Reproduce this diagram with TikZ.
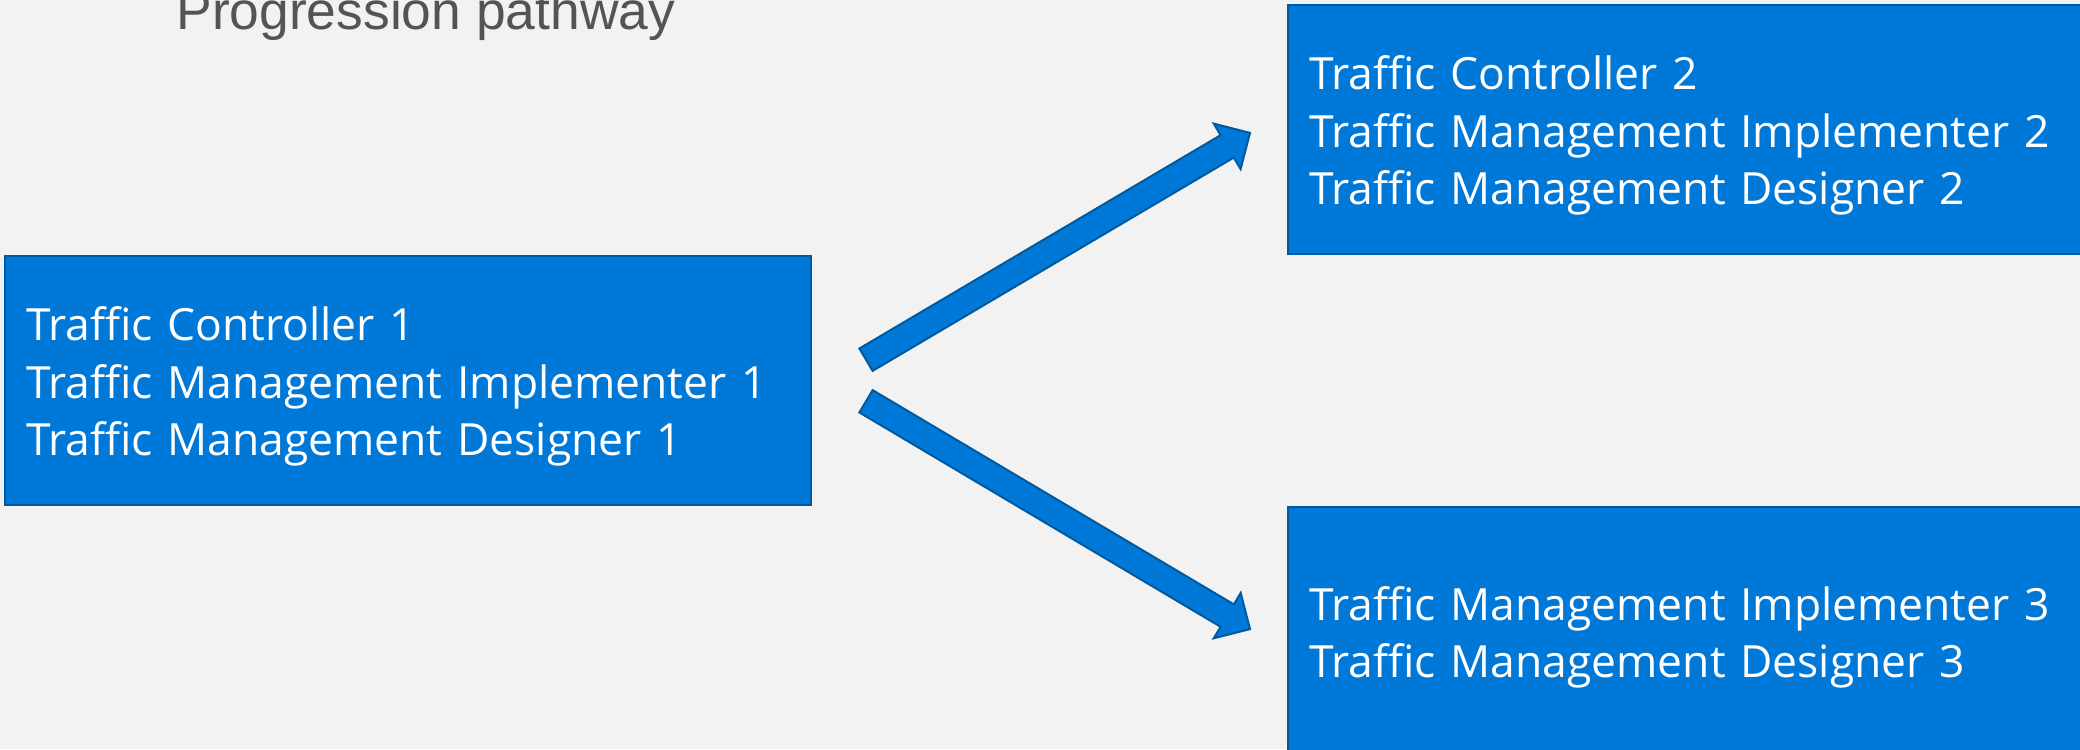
\documentclass[tikz,border=0pt]{standalone}
\usepackage{fontspec}
\setmainfont{Open Sans}
\newfontfamily\titlefont{Liberation Sans}
\usetikzlibrary{calc,positioning}

\definecolor{pagebg}{HTML}{F2F2F2}
\definecolor{tileblue}{HTML}{0078D7}
\definecolor{tileedge}{HTML}{005A9E}
\definecolor{headgray}{HTML}{545454}

\begin{document}
\begin{tikzpicture}[
  node distance=0pt and 237.5pt,
  tile/.style={draw=tileedge, line width=1pt, fill=tileblue, text=white,
    minimum width=403pt, minimum height=124.5pt, inner xsep=10.5pt,
    text width=382pt, align=left, font=\fontsize{22.2}{28.75}\selectfont,
    execute at begin node={\rule{0pt}{22.9pt}}},
  fatarrow/.style={draw=tileedge, line width=1pt, fill=tileblue,
    to path={let \p1=($(\tikztotarget)-(\tikztostart)$),
      \n1={atan2(\y1,\x1)}, \n2={veclen(\x1,\y1)-13.25pt} in
      -- ($(\tikztostart)+(\n1+90:6.5pt)$)
      -- ($(\tikztostart)+(\n1:\n2)+(\n1+90:6.5pt)$)
      -- ($(\tikztostart)+(\n1:\n2)+(\n1+90:13.2pt)$)
      -- (\tikztotarget)
      -- ($(\tikztostart)+(\n1:\n2)+(\n1-90:13.2pt)$)
      -- ($(\tikztostart)+(\n1:\n2)+(\n1-90:6.5pt)$)
      -- ($(\tikztostart)+(\n1-90:6.5pt)$) -- cycle}}
]
\path[use as bounding box, fill=pagebg] (0,0) rectangle (1040pt,374.5pt);

\node[font=\titlefont\fontsize{26.7}{30}\selectfont, text=headgray,
  anchor=base west, inner sep=0pt] (title) at (88pt,359.5pt) {Progression pathway};

\node[tile, anchor=west] (lvl1) at (2pt,184.25pt)
  {Traffic Controller 1\\Traffic Management Implementer 1\\Traffic Management Designer 1};
\node[tile, above right=of lvl1] (lvl2)
  {Traffic Controller 2\\Traffic Management Implementer 2\\Traffic Management Designer 2};
\node[tile, below right=of lvl1] (lvl3)
  {Traffic Management Implementer 3\\Traffic Management Designer 3};

\coordinate (upfrom) at ([xshift=27pt, yshift=10.4pt]lvl1.east);
\coordinate (upto) at ([xshift=-18.5pt, yshift=-1.7pt]lvl2.west);
\coordinate (downfrom) at ([xshift=27pt, yshift=-10.4pt]lvl1.east);
\coordinate (downto) at ([xshift=-18.5pt, yshift=1.2pt]lvl3.west);

\draw[fatarrow] (upfrom) to (upto);
\draw[fatarrow] (downfrom) to (downto);
\end{tikzpicture}
\end{document}
